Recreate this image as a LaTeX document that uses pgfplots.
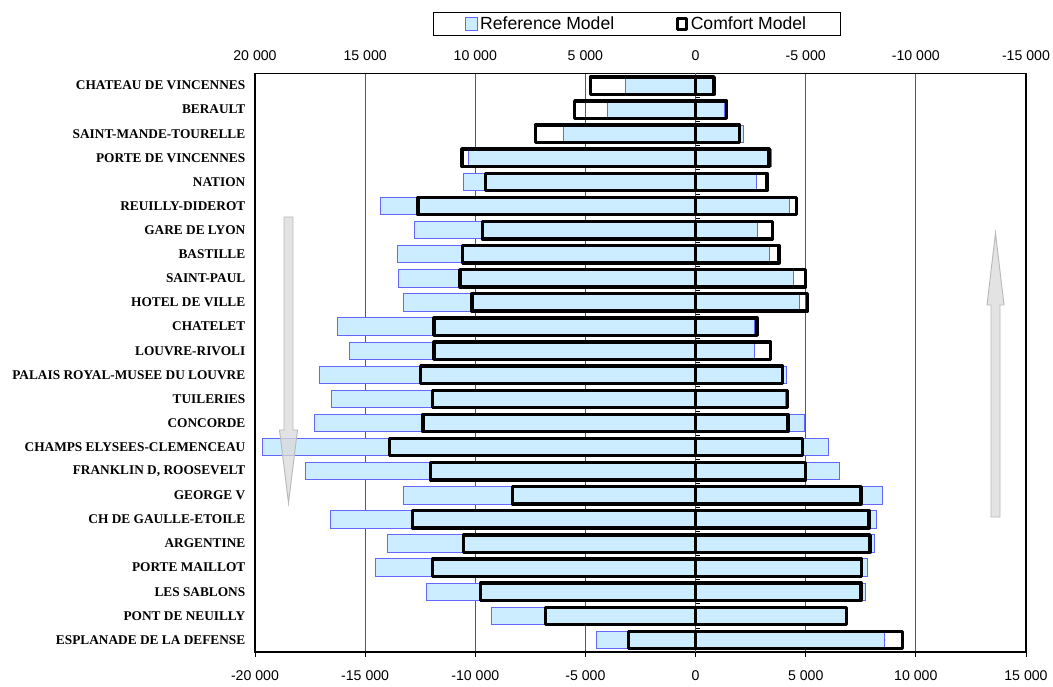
\documentclass[border=0pt]{standalone}
\usepackage{pgfplots}
\pgfplotsset{compat=1.18}
\usepackage{pgfplotstable}
\usepackage{fontspec}
\setmainfont{Liberation Serif}
\setsansfont{Liberation Sans}

\definecolor{reffill}{RGB}{204,236,255}
\definecolor{refline}{RGB}{102,102,255}
\definecolor{arrowfill}{RGB}{218,218,218}
\definecolor{arrowline}{RGB}{185,185,185}

% station index (1 = top), reference model (neg/pos), comfort model (neg/pos)
\pgfplotstableread{
idx refneg refpos comneg compos
1  -3180   750  -4780   840
2  -4000  1310  -5490  1410
3  -6000  2190  -7280  2000
4 -10310  3430 -10600  3340
5 -10550  2750  -9545  3250
6 -14290  4260 -12600  4575
7 -12780  2820  -9680  3480
8 -13510  3340 -10570  3790
9 -13490  4430 -10690  4990
10 -13270  4730 -10150  5080
11 -16260  2660 -11870  2785
12 -15720  2660 -11870  3410
13 -17060  4120 -12480  3950
14 -16520  4090 -11940  4160
15 -17300  4925 -12380  4190
16 -19680  6050 -13890  4850
17 -17700  6520 -12020  5000
18 -13240  8490  -8310  7515
19 -16560  8220 -12850  7880
20 -13970  8120 -10540  7920
21 -14520  7800 -11940  7530
22 -12200  7700  -9750  7515
23  -9280  6820  -6810  6860
24  -4520  8570  -3035  9380
}\stations

\pgfplotsset{
  ticknum/.style={
    /pgf/number format/.cd, 1000 sep={\ }, assume math mode=true, /pgfplots/.cd,
    x tick label style={font=\sffamily\fontsize{10.6}{12}\selectfont},
    scaled x ticks=false,
  },
}

\begin{document}
\begin{tikzpicture}
\path[use as bounding box] (-191.25pt,-25.5pt) rectangle (598.5pt,489pt);

\begin{axis}[
  at={(0pt,0pt)}, anchor=south west,
  scale only axis, width=578.25pt, height=433.9pt,
  xbar, bar width=0.72, bar shift=0pt,
  xmin=-20000, xmax=15000, ymin=0.5, ymax=24.5, enlargelimits=false,
  y dir=reverse,
  xtick={-20000,-15000,...,15000},
  xtick pos=left, xticklabel pos=left,
  ticknum,
  x tick label style={yshift=-7pt},
  ytick={1,...,24},
  yticklabels={CHATEAU DE VINCENNES, BERAULT, SAINT-MANDE-TOURELLE,
    PORTE DE VINCENNES, NATION, REUILLY-DIDEROT, GARE DE LYON, BASTILLE,
    SAINT-PAUL, HOTEL DE VILLE, CHATELET, LOUVRE-RIVOLI,
    PALAIS ROYAL-MUSEE DU LOUVRE, TUILERIES, CONCORDE,
    CHAMPS ELYSEES-CLEMENCEAU, {FRANKLIN D, ROOSEVELT}, GEORGE V,
    CH DE GAULLE-ETOILE, ARGENTINE, PORTE MAILLOT, LES SABLONS,
    PONT DE NEUILLY, ESPLANADE DE LA DEFENSE},
  y tick label style={font=\rmfamily\bfseries\fontsize{10}{12}\selectfont},
  y tick style={draw=none},
  xmajorgrids,
  major grid style={black!65, line width=0.6pt},
  axis line style={black, line width=0.9pt},
  tick align=outside, major tick length=3.75pt,
  x tick style={black, line width=0.6pt},
  extra x ticks={0}, extra x tick labels={},
  extra x tick style={major tick length=0pt, grid style={black, line width=1.3pt}},
  legend columns=2,
  legend style={at={(0.5,1)}, anchor=south, yshift=28pt, xshift=-2.6pt,
    draw=black, line width=0.75pt, inner xsep=24pt, inner ysep=1pt,
    font=\sffamily\fontsize{13.2}{15}\selectfont,
    /tikz/every even column/.append style={column sep=44pt}},
]
\addplot[fill=reffill, draw=refline, line width=0.75pt,
  legend image code/.code={\draw[fill=reffill, draw=refline, line width=0.75pt] (0pt,-4.7pt) rectangle (8.5pt,4.7pt);}]
  table[x=refneg, y=idx]{\stations};
\addlegendentry{Reference Model}
\addplot[forget plot, fill=reffill, draw=refline, line width=0.75pt]
  table[x=refpos, y=idx]{\stations};
\addplot[fill=none, draw=black, line width=2.5pt, line join=round,
  legend image code/.code={\draw[draw=black, line width=2.4pt, line join=round] (1pt,-4pt) rectangle (8pt,4.2pt);}]
  table[x=comneg, y=idx]{\stations};
\addlegendentry{Comfort Model}
\addplot[forget plot, fill=none, draw=black, line width=2.5pt, line join=round]
  table[x=compos, y=idx]{\stations};
\pgfplotsinvokeforeach{1.5,2.5,...,23.5}{
  \draw[black, line width=0.6pt] (axis cs:0,#1) -- ++(3pt,0pt);
}
\end{axis}

% reversed scale along the top
\begin{axis}[
  at={(0pt,0pt)}, anchor=south west,
  scale only axis, width=578.25pt, height=433.9pt,
  x dir=reverse, xmin=-15000, xmax=20000, ymin=0, ymax=1,
  enlargelimits=false,
  xtick={-15000,-10000,...,20000},
  xtick pos=right, xticklabel pos=right,
  ticknum,
  x tick label style={yshift=6pt},
  ytick=\empty,
  major tick length=0pt,
  axis line style={draw=none},
]
\end{axis}

% decorative arrows
\begin{scope}[x=0.75pt, y=-0.75pt, shift={(-191.25pt,489pt)}]
\filldraw[fill=arrowfill, draw=arrowline, fill opacity=0.75, line width=0.7pt]
  (284,217) -- (293,217) -- (293,430) -- (297.5,430) -- (288.5,503)
  -- (279.5,430) -- (284,430) -- cycle;
\filldraw[fill=arrowfill, draw=arrowline, fill opacity=0.75, line width=0.7pt]
  (991,517) -- (1000,517) -- (1000,305) -- (1004,305) -- (995.5,233)
  -- (987,305) -- (991,305) -- cycle;
\end{scope}
\end{tikzpicture}
\end{document}
